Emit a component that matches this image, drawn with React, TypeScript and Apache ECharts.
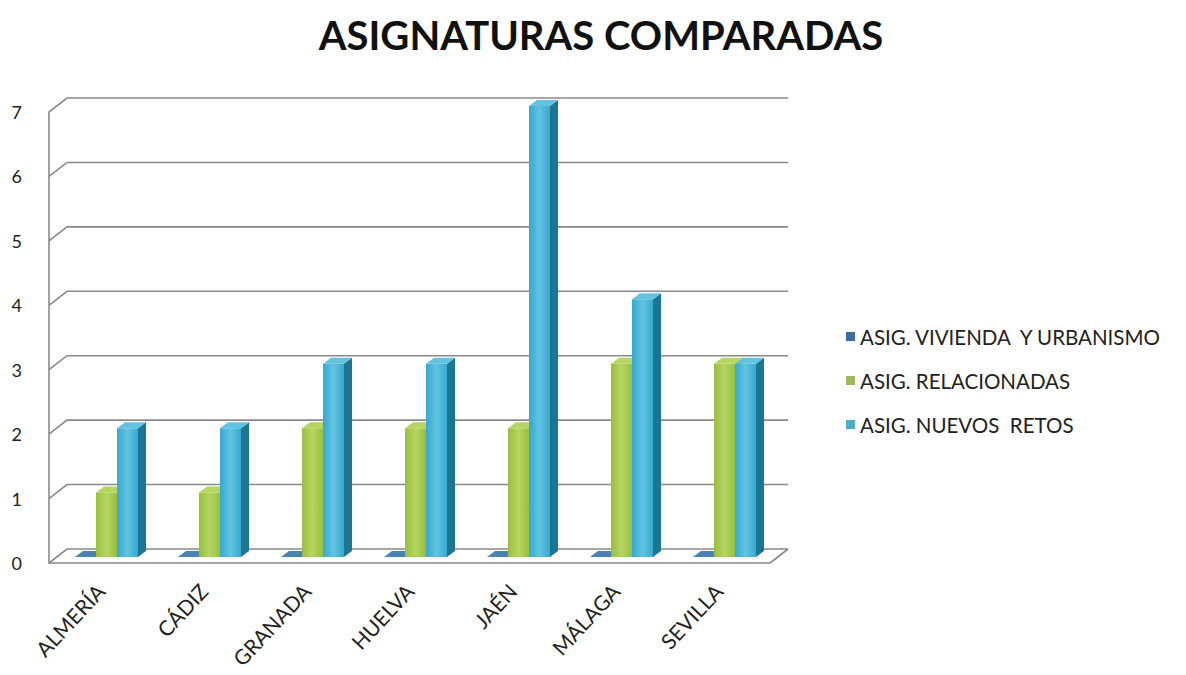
import React, { useEffect, useRef } from "react";
import * as echarts from "echarts";

const categories = ["ALMERÍA", "CÁDIZ", "GRANADA", "HUELVA", "JAÉN", "MÁLAGA", "SEVILLA"];
const seriesNames = ["ASIG. VIVIENDA  Y URBANISMO", "ASIG. RELACIONADAS", "ASIG. NUEVOS  RETOS"];
const vivienda = [0, 0, 0, 0, 0, 0, 0];
const relacionadas = [1, 1, 2, 2, 2, 3, 3];
const nuevosRetos = [2, 2, 3, 3, 7, 4, 3];
const yTicks = [0, 1, 2, 3, 4, 5, 6, 7];

const palettes = [
  { front: "#2f6494", side: "#1f4770", top: "#4a82b4", legend: "#3a6f9f" },
  { front: "#98bf3e", side: "#6e8f28", top: "#b6d562", legend: "#9bbb59" },
  { front: "#37a9cf", side: "#1c7592", top: "#62c3e0", legend: "#4bacc6" },
];

const DX = 18;
const DY = -14;
const BW = 21;
const OFF_X = 6;
const OFF_Y = -6;
const DEP_X = 8;
const DEP_Y = -6;

function makeBarSeries(name: string, values: number[], k: number) {
  const pal = palettes[k];
  return {
    type: "custom",
    name,
    itemStyle: { color: pal.legend },
    encode: { x: 0, y: 1 },
    data: values.map((v, i) => [i, v]),
    renderItem: (params: any, api: any) => {
      const idx = api.value(0);
      const val = api.value(1);
      const base = api.coord([idx, 0]);
      const top = api.coord([idx, val]);
      const left = base[0] - 1.5 * BW + k * BW + OFF_X;
      const bottomY = base[1] + OFF_Y;
      const topY = top[1] + OFF_Y;
      const h = bottomY - topY;
      return {
        type: "group",
        children: [
          {
            type: "rect",
            shape: { x: left, y: topY, width: BW, height: h },
            style: {
              fill: new echarts.graphic.LinearGradient(0, 0, 1, 0, [
                { offset: 0, color: pal.front },
                { offset: 0.5, color: pal.top },
                { offset: 1, color: pal.front },
              ]),
            },
          },
          {
            type: "polygon",
            shape: {
              points: [
                [left + BW, topY],
                [left + BW + DEP_X, topY + DEP_Y],
                [left + BW + DEP_X, bottomY + DEP_Y],
                [left + BW, bottomY],
              ],
            },
            style: { fill: pal.side },
          },
          {
            type: "polygon",
            shape: {
              points: [
                [left, topY],
                [left + DEP_X, topY + DEP_Y],
                [left + BW + DEP_X, topY + DEP_Y],
                [left + BW, topY],
              ],
            },
            style: { fill: pal.top },
          },
        ],
      };
    },
  };
}

export default function App() {
  const ref = useRef<HTMLDivElement>(null);
  useEffect(() => {
    if (!ref.current) return;
    const chart = echarts.init(ref.current, null, { renderer: "svg" });
    const wallSeries = {
      type: "custom",
      name: "wall",
      silent: true,
      z: 1,
      encode: { x: 0, y: 1 },
      data: yTicks.map((v) => [0, v]),
      renderItem: (params: any, api: any) => {
        const cs = params.coordSys;
        const y = api.coord([0, api.value(1)])[1];
        const children: any[] = [
          {
            type: "polyline",
            shape: {
              points: [
                [cs.x, y],
                [cs.x + DX, y + DY],
                [cs.x + cs.width + DX, y + DY],
              ],
            },
            style: { stroke: "#8a8a8a", lineWidth: 1.6, fill: null },
          },
        ];
        if (api.value(1) === 0) {
          children.push({
            type: "line",
            shape: { x1: cs.x + cs.width, y1: y, x2: cs.x + cs.width + DX, y2: y + DY },
            style: { stroke: "#8a8a8a", lineWidth: 1.6 },
          });
        }
        return { type: "group", children };
      },
    };
    chart.setOption({
      animation: false,
      backgroundColor: "#ffffff",
      title: {
        text: "ASIGNATURAS COMPARADAS",
        left: 596,
        textAlign: "center",
        top: 10,
        textStyle: { fontFamily: "Lato", fontWeight: "bold", fontSize: 40, color: "#111" },
      },
      legend: {
        data: seriesNames,
        orient: "vertical",
        left: 841,
        top: 321,
        itemGap: 23,
        itemWidth: 9,
        itemHeight: 9,
        icon: "rect",
        textStyle: { fontFamily: "Lato", fontSize: 20.5, lineHeight: 21, color: "#222" },
      },
      grid: { left: 49, right: 416, top: 112, bottom: 112 },
      xAxis: {
        type: "category",
        data: categories,
        axisLine: { lineStyle: { color: "#8a8a8a", width: 1.6 } },
        axisTick: { show: false },
        axisLabel: {
          rotate: 47,
          margin: 24,
          fontFamily: "Lato",
          fontSize: 21,
          color: "#222",
        },
        splitLine: { show: false },
      },
      yAxis: {
        type: "value",
        min: 0,
        max: 7,
        interval: 1,
        axisLine: { show: true, lineStyle: { color: "#8a8a8a", width: 1.6 } },
        axisTick: { show: false },
        axisLabel: { margin: 27, fontFamily: "Lato", fontSize: 18, color: "#222" },
        splitLine: { show: false },
      },
      series: [
        wallSeries,
        makeBarSeries(seriesNames[0], vivienda, 0),
        makeBarSeries(seriesNames[1], relacionadas, 1),
        makeBarSeries(seriesNames[2], nuevosRetos, 2),
      ],
    });
    return () => chart.dispose();
  }, []);
  return <div ref={ref} style={{ width: 1186, height: 675, position: "absolute", left: 0, top: 0 }} />;
}
